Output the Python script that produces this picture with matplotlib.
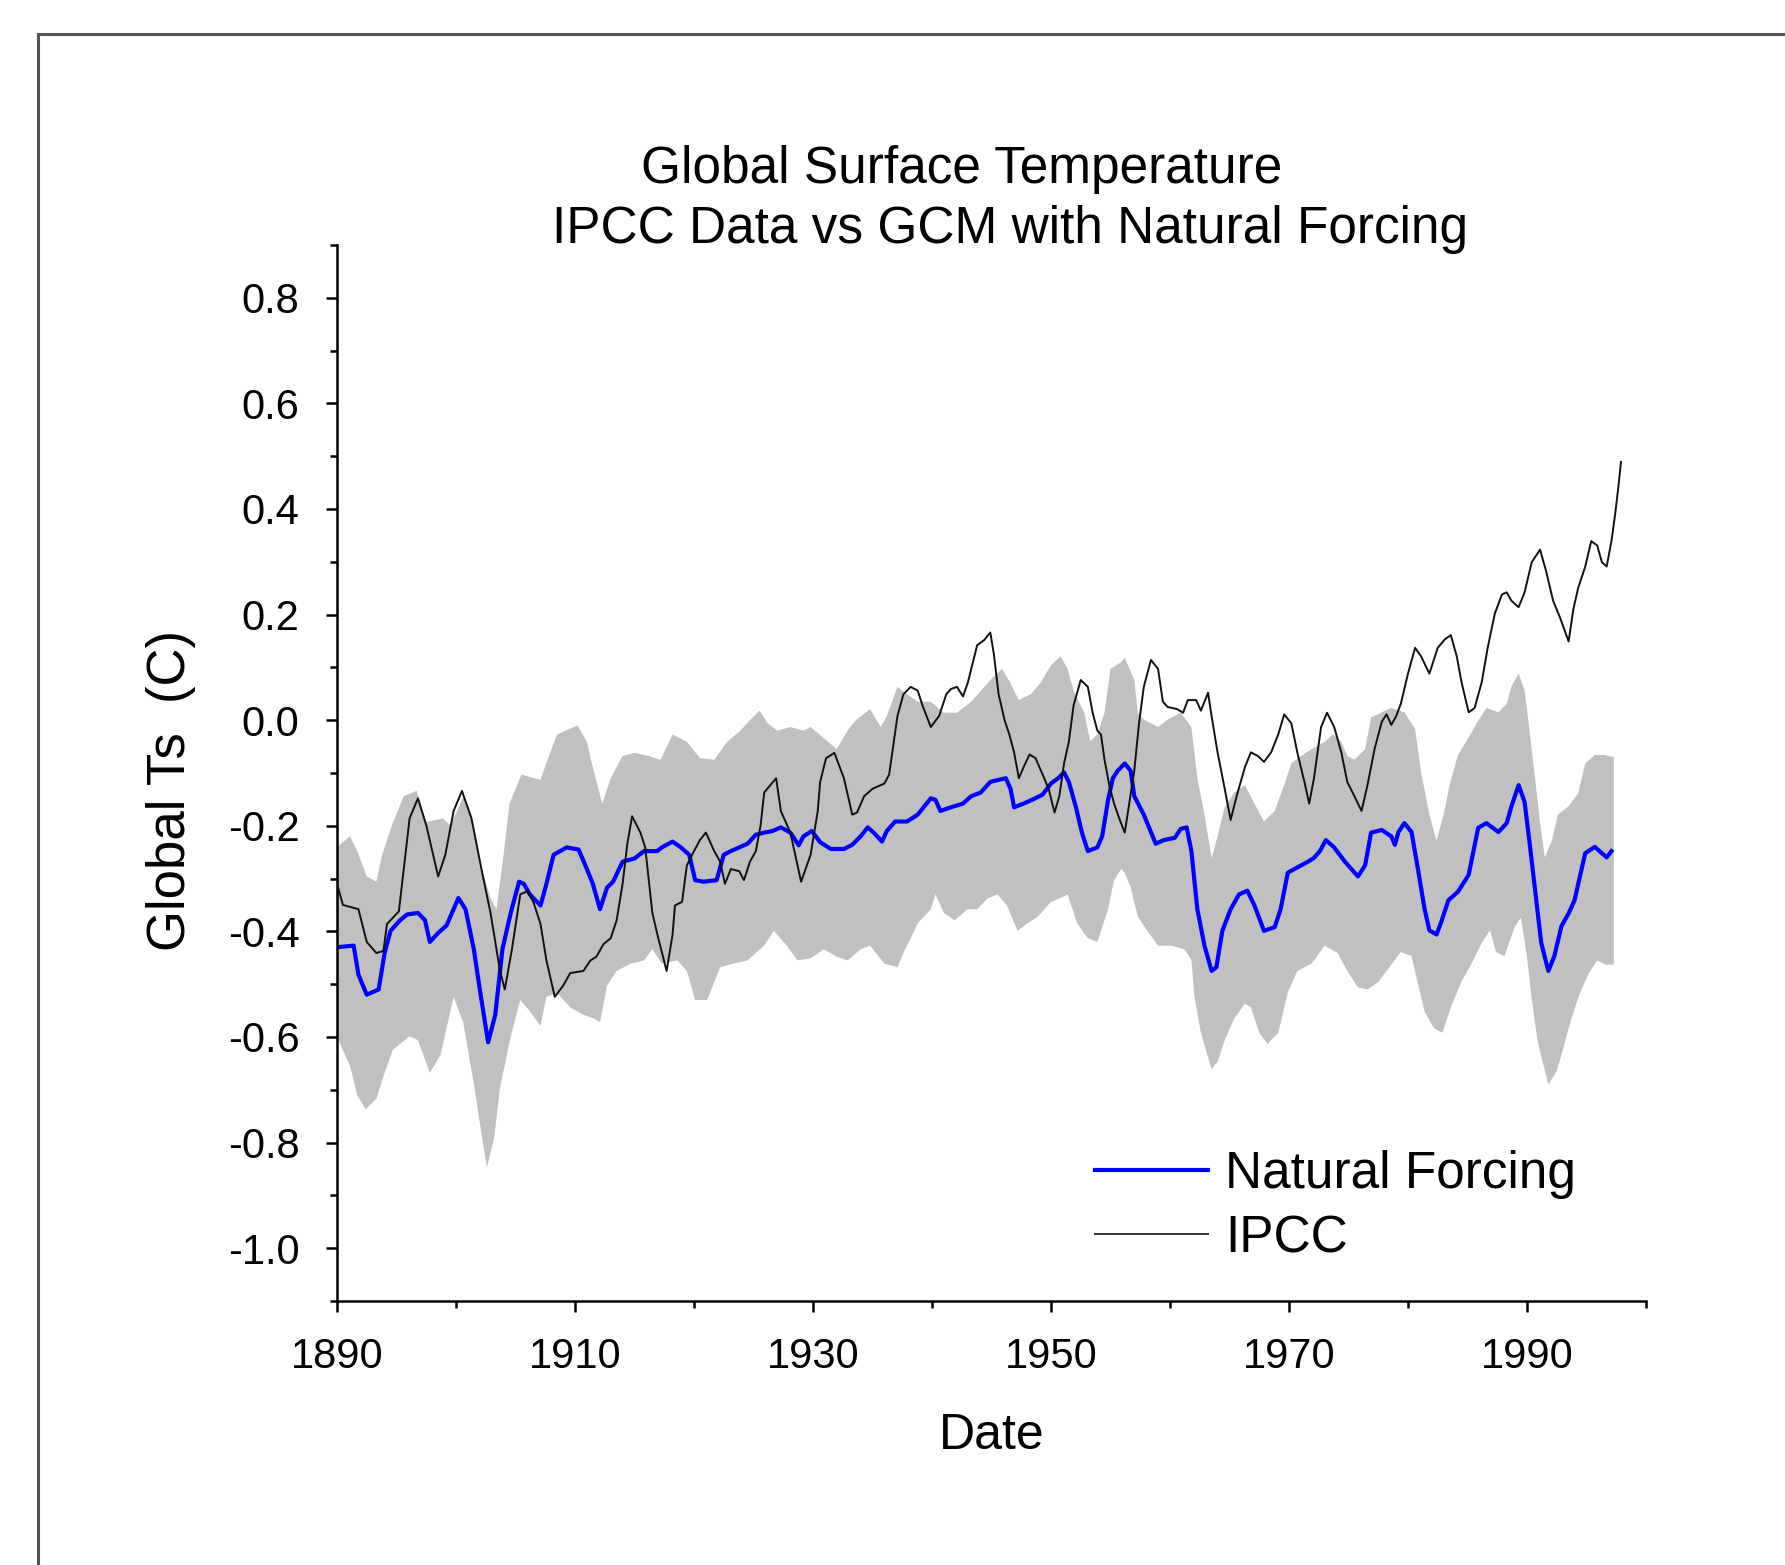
import numpy as np
import matplotlib
matplotlib.use("Agg")
import matplotlib.pyplot as plt
from matplotlib.patches import Rectangle
from matplotlib.lines import Line2D
from matplotlib.ticker import MultipleLocator, FuncFormatter

plt.rcParams['font.family'] = ['Liberation Sans', 'DejaVu Sans']
plt.rcParams['axes.unicode_minus'] = False

# ---------------- data ----------------
ipcc_year = [1890.0, 1890.5, 1891.8, 1892.5, 1893.3, 1893.9, 1894.2, 1895.2, 1896.1, 1896.8,
             1897.5, 1898.5, 1899.1, 1899.8, 1900.5, 1901.3, 1902.2, 1902.9, 1903.7, 1904.1,
             1904.7, 1905.4, 1906.0, 1906.5, 1907.1, 1907.6, 1908.3, 1909.0, 1909.6, 1910.7,
             1911.3, 1911.8, 1912.4, 1913.0, 1913.5, 1914.0, 1914.4, 1914.8, 1915.5, 1915.9,
             1916.5, 1917.0, 1917.7, 1918.2, 1918.4, 1919.0, 1919.4, 1920.0, 1920.5, 1921.0,
             1921.7, 1922.2, 1922.6, 1923.1, 1923.8, 1924.2, 1924.7, 1925.2, 1925.6, 1925.9,
             1926.9, 1927.3, 1928.1, 1929.0, 1929.8, 1930.4, 1930.6, 1931.1, 1931.8, 1932.6,
             1933.3, 1933.7, 1934.3, 1935.0, 1936.0, 1936.4, 1936.7, 1937.1, 1937.6, 1938.2,
             1938.8, 1939.2, 1939.9, 1940.6, 1941.2, 1941.6, 1942.1, 1942.6, 1943.0, 1943.3,
             1943.8, 1944.4, 1944.9, 1945.2, 1945.6, 1946.1, 1946.5, 1946.9, 1947.3, 1947.7,
             1948.2, 1948.7, 1949.3, 1949.8, 1950.3, 1950.7, 1951.1, 1951.5, 1951.9, 1952.5,
             1953.1, 1953.5, 1953.9, 1954.2, 1954.5, 1954.9, 1955.3, 1955.8, 1956.2, 1957.0,
             1957.4, 1957.8, 1958.4, 1959.0, 1959.4, 1959.8, 1960.6, 1961.1, 1961.5, 1962.2,
             1962.6, 1963.2, 1963.5, 1964.0, 1964.6, 1965.1, 1965.6, 1966.3, 1966.8, 1967.4,
             1967.9, 1968.5, 1969.1, 1969.6, 1970.2, 1970.7, 1971.3, 1971.7, 1972.1, 1972.7,
             1973.2, 1973.8, 1974.4, 1974.9, 1975.5, 1976.1, 1976.6, 1977.2, 1977.8, 1978.2,
             1978.6, 1979.0, 1979.4, 1980.0, 1980.6, 1981.1, 1981.8, 1982.5, 1983.1, 1983.6,
             1984.1, 1984.5, 1985.1, 1985.6, 1986.2, 1986.7, 1987.3, 1987.9, 1988.3, 1988.7,
             1989.3, 1989.8, 1990.4, 1991.1, 1991.6, 1992.2, 1992.8, 1993.5, 1993.9, 1994.3,
             1994.9, 1995.4, 1995.9, 1996.3, 1996.7, 1997.1, 1997.4, 1997.7, 1997.9]
ipcc_ts = [-0.310, -0.350, -0.358, -0.420, -0.441, -0.437, -0.386, -0.362, -0.186, -0.148,
           -0.199, -0.296, -0.255, -0.172, -0.134, -0.186, -0.289, -0.365, -0.475, -0.510,
           -0.434, -0.330, -0.324, -0.344, -0.386, -0.455, -0.524, -0.503, -0.479, -0.475,
           -0.455, -0.448, -0.424, -0.413, -0.379, -0.310, -0.234, -0.182, -0.213, -0.241,
           -0.365, -0.413, -0.475, -0.406, -0.351, -0.344, -0.275, -0.248, -0.227, -0.213,
           -0.248, -0.268, -0.310, -0.282, -0.286, -0.303, -0.268, -0.248, -0.199, -0.137,
           -0.110, -0.172, -0.213, -0.306, -0.255, -0.172, -0.117, -0.072, -0.062, -0.110,
           -0.179, -0.175, -0.144, -0.130, -0.120, -0.103, -0.055, 0.008, 0.049, 0.063,
           0.056, 0.028, -0.013, 0.008, 0.049, 0.059, 0.063, 0.045, 0.070, 0.097,
           0.142, 0.152, 0.166, 0.125, 0.049, 0.000, -0.027, -0.061, -0.110, -0.089,
           -0.065, -0.072, -0.103, -0.130, -0.175, -0.144, -0.082, -0.041, 0.028, 0.076,
           0.063, 0.014, -0.020, -0.027, -0.075, -0.123, -0.158, -0.190, -0.213, -0.096,
           -0.006, 0.063, 0.114, 0.097, 0.035, 0.025, 0.021, 0.014, 0.038, 0.038,
           0.018, 0.052, 0.007, -0.061, -0.130, -0.189, -0.144, -0.089, -0.061, -0.068,
           -0.079, -0.061, -0.027, 0.011, -0.006, -0.061, -0.117, -0.158, -0.110, -0.013,
           0.014, -0.013, -0.061, -0.117, -0.144, -0.172, -0.123, -0.054, -0.003, 0.011,
           -0.009, 0.007, 0.031, 0.088, 0.137, 0.121, 0.088, 0.137, 0.153, 0.161,
           0.121, 0.072, 0.015, 0.023, 0.072, 0.137, 0.202, 0.238, 0.242, 0.226,
           0.214, 0.242, 0.299, 0.323, 0.283, 0.226, 0.193, 0.149, 0.210, 0.250,
           0.291, 0.339, 0.331, 0.299, 0.291, 0.339, 0.388, 0.445, 0.489]

nat_year = [1890.0, 1891.4, 1891.8, 1892.5, 1893.5, 1894.0, 1894.5, 1895.3, 1895.9, 1896.8,
            1897.4, 1897.8, 1898.5, 1899.2, 1900.2, 1900.8, 1901.5, 1902.0, 1902.7, 1903.3,
            1903.9, 1904.6, 1905.3, 1905.7, 1906.2, 1907.1, 1907.6, 1908.2, 1909.3, 1910.3,
            1911.0, 1911.5, 1912.1, 1912.7, 1913.2, 1914.0, 1915.0, 1915.8, 1916.9, 1917.3,
            1918.2, 1918.9, 1919.6, 1920.1, 1920.8, 1921.9, 1922.5, 1923.1, 1923.8, 1924.5,
            1925.2, 1925.9, 1926.6, 1927.3, 1928.1, 1928.8, 1929.2, 1929.9, 1930.6, 1931.5,
            1932.6, 1933.3, 1934.0, 1934.6, 1935.1, 1935.8, 1936.2, 1936.9, 1937.9, 1938.8,
            1939.9, 1940.3, 1940.7, 1941.6, 1942.6, 1943.3, 1944.1, 1944.9, 1945.6, 1946.2,
            1946.6, 1946.9, 1947.7, 1948.4, 1949.3, 1950.0, 1950.6, 1951.1, 1951.5, 1952.1,
            1952.6, 1953.1, 1953.9, 1954.3, 1954.8, 1955.2, 1955.6, 1956.2, 1956.7, 1957.0,
            1957.8, 1958.8, 1959.5, 1960.4, 1960.9, 1961.4, 1961.8, 1962.3, 1962.9, 1963.5,
            1963.9, 1964.4, 1965.1, 1965.8, 1966.5, 1967.1, 1967.9, 1968.8, 1969.3, 1969.9,
            1970.7, 1971.6, 1972.1, 1972.6, 1973.1, 1973.8, 1974.7, 1975.8, 1976.4, 1976.9,
            1977.8, 1978.6, 1978.9, 1979.2, 1979.7, 1980.3, 1980.8, 1981.4, 1981.8, 1982.4,
            1982.8, 1983.4, 1984.2, 1985.1, 1985.9, 1986.6, 1987.6, 1988.3, 1988.7, 1989.3,
            1989.8, 1990.2, 1990.7, 1991.2, 1991.8, 1992.3, 1992.9, 1993.5, 1994.0, 1994.4,
            1994.9, 1995.7, 1996.3, 1996.7, 1997.1]
nat_ts = [-0.430, -0.427, -0.482, -0.520, -0.510, -0.441, -0.399, -0.379, -0.368, -0.365,
          -0.379, -0.420, -0.403, -0.389, -0.337, -0.358, -0.434, -0.510, -0.610, -0.558,
          -0.434, -0.365, -0.306, -0.310, -0.330, -0.351, -0.310, -0.255, -0.241, -0.245,
          -0.282, -0.310, -0.358, -0.317, -0.306, -0.268, -0.262, -0.248, -0.248, -0.241,
          -0.230, -0.241, -0.255, -0.303, -0.306, -0.303, -0.255, -0.248, -0.241, -0.234,
          -0.217, -0.213, -0.210, -0.203, -0.213, -0.237, -0.220, -0.210, -0.231, -0.244,
          -0.244, -0.236, -0.220, -0.203, -0.213, -0.230, -0.210, -0.192, -0.192, -0.179,
          -0.148, -0.151, -0.172, -0.165, -0.158, -0.144, -0.137, -0.117, -0.113, -0.110,
          -0.130, -0.165, -0.158, -0.151, -0.141, -0.120, -0.110, -0.099, -0.117, -0.165,
          -0.213, -0.248, -0.241, -0.220, -0.151, -0.110, -0.096, -0.082, -0.096, -0.144,
          -0.179, -0.234, -0.227, -0.223, -0.206, -0.203, -0.248, -0.358, -0.427, -0.475,
          -0.468, -0.399, -0.358, -0.330, -0.323, -0.351, -0.399, -0.392, -0.358, -0.289,
          -0.279, -0.268, -0.261, -0.248, -0.227, -0.241, -0.268, -0.296, -0.275, -0.213,
          -0.208, -0.220, -0.236, -0.212, -0.195, -0.212, -0.277, -0.358, -0.398, -0.406,
          -0.382, -0.341, -0.325, -0.293, -0.204, -0.195, -0.212, -0.195, -0.163, -0.123,
          -0.155, -0.228, -0.325, -0.422, -0.475, -0.447, -0.390, -0.366, -0.341, -0.301,
          -0.252, -0.240, -0.252, -0.260, -0.248]

band_up_year = [1890.0, 1891.1, 1891.7, 1892.5, 1893.3, 1893.8, 1894.6, 1895.6, 1896.7, 1897.5,
                1898.9, 1899.5, 1900.1, 1900.6, 1901.5, 1902.0, 1902.9, 1903.4, 1904.0, 1904.5,
                1905.5, 1907.1, 1907.9, 1908.5, 1910.2, 1911.0, 1911.5, 1912.3, 1913.0, 1914.0,
                1915.0, 1916.2, 1917.2, 1918.2, 1919.4, 1920.5, 1921.7, 1922.8, 1923.9, 1924.7,
                1925.5, 1926.2, 1927.0, 1928.1, 1929.2, 1929.8, 1930.9, 1932.0, 1932.9, 1933.6,
                1934.8, 1935.7, 1936.2, 1937.1, 1937.9, 1938.8, 1939.9, 1941.0, 1942.1, 1943.3,
                1944.4, 1945.2, 1945.9, 1946.6, 1947.3, 1948.3, 1949.1, 1950.0, 1950.8, 1951.4,
                1951.9, 1952.8, 1953.3, 1953.9, 1954.5, 1955.0, 1955.9, 1956.2, 1957.0, 1957.3,
                1957.8, 1959.0, 1959.8, 1960.9, 1961.8, 1962.3, 1962.9, 1963.5, 1964.0, 1964.6,
                1965.4, 1966.3, 1967.1, 1967.9, 1968.8, 1969.6, 1970.2, 1971.0, 1971.9, 1973.0,
                1973.7, 1974.4, 1974.9, 1975.5, 1976.4, 1976.9, 1977.8, 1978.6, 1979.7, 1980.6,
                1981.1, 1981.8, 1982.4, 1983.0, 1983.5, 1984.2, 1985.1, 1985.9, 1986.6, 1987.6,
                1988.3, 1988.7, 1989.3, 1989.8, 1990.2, 1990.7, 1991.1, 1991.5, 1992.1, 1992.6,
                1993.5, 1994.3, 1994.9, 1995.7, 1996.5, 1997.3]
band_up_ts = [-0.240, -0.220, -0.248, -0.296, -0.306, -0.255, -0.200, -0.144, -0.134, -0.193,
              -0.186, -0.199, -0.172, -0.144, -0.199, -0.268, -0.337, -0.358, -0.255, -0.158,
              -0.103, -0.113, -0.062, -0.027, -0.010, -0.041, -0.090, -0.158, -0.110, -0.068,
              -0.062, -0.068, -0.075, -0.027, -0.041, -0.072, -0.075, -0.041, -0.020, 0.000,
              0.018, -0.006, -0.020, -0.013, -0.020, -0.013, -0.034, -0.055, -0.020, 0.000,
              0.021, -0.013, 0.007, 0.063, 0.049, 0.035, 0.035, 0.014, 0.014, 0.035,
              0.063, 0.083, 0.097, 0.070, 0.038, 0.049, 0.070, 0.104, 0.121, 0.097,
              0.056, 0.014, -0.040, -0.027, 0.014, 0.097, 0.110, 0.118, 0.076, 0.014,
              0.001, -0.013, 0.001, 0.014, -0.013, -0.110, -0.179, -0.261, -0.220, -0.165,
              -0.137, -0.123, -0.158, -0.192, -0.172, -0.123, -0.082, -0.068, -0.055, -0.041,
              -0.027, -0.041, -0.068, -0.075, -0.055, 0.005, 0.015, 0.023, 0.015, -0.017,
              -0.098, -0.179, -0.228, -0.179, -0.123, -0.066, -0.033, -0.001, 0.023, 0.015,
              0.031, 0.064, 0.088, 0.056, -0.017, -0.114, -0.195, -0.260, -0.228, -0.179,
              -0.163, -0.139, -0.082, -0.066, -0.066, -0.070]

band_lo_year = [1890.0, 1891.1, 1891.7, 1892.4, 1893.3, 1894.0, 1894.7, 1896.1, 1896.8, 1897.8,
                1898.7, 1899.8, 1900.6, 1901.5, 1902.3, 1902.6, 1903.2, 1903.7, 1904.6, 1905.4,
                1906.2, 1907.1, 1907.6, 1908.5, 1909.6, 1910.7, 1911.6, 1912.1, 1912.7, 1913.5,
                1914.7, 1915.8, 1916.5, 1917.3, 1918.6, 1919.4, 1920.1, 1921.1, 1922.2, 1923.3,
                1924.5, 1925.9, 1926.7, 1927.8, 1928.7, 1929.8, 1930.9, 1932.0, 1932.9, 1934.0,
                1934.8, 1936.0, 1937.1, 1937.6, 1938.8, 1939.9, 1940.3, 1941.0, 1941.9, 1943.0,
                1943.8, 1944.7, 1945.5, 1946.3, 1947.2, 1948.0, 1948.9, 1950.0, 1950.8, 1951.4,
                1952.2, 1953.1, 1953.9, 1954.8, 1955.3, 1955.9, 1956.2, 1956.7, 1957.3, 1958.1,
                1959.0, 1960.1, 1961.2, 1961.8, 1962.05, 1962.6, 1963.5, 1964.0, 1964.6, 1965.4,
                1966.3, 1966.8, 1967.5, 1968.2, 1969.1, 1969.9, 1970.7, 1971.9, 1973.0, 1974.1,
                1974.9, 1975.8, 1976.6, 1977.5, 1978.6, 1979.4, 1980.3, 1980.8, 1981.4, 1982.2,
                1982.9, 1983.6, 1984.5, 1985.3, 1986.2, 1986.9, 1987.4, 1988.1, 1989.0, 1989.5,
                1990.0, 1990.4, 1990.9, 1991.8, 1992.5, 1993.2, 1993.7, 1994.4, 1995.2, 1995.9,
                1996.6, 1997.3]
band_lo_ts = [-0.600, -0.655, -0.710, -0.737, -0.717, -0.668, -0.624, -0.599, -0.606, -0.668,
              -0.634, -0.524, -0.572, -0.689, -0.806, -0.847, -0.792, -0.696, -0.599, -0.530,
              -0.551, -0.579, -0.524, -0.517, -0.544, -0.558, -0.565, -0.572, -0.503, -0.475,
              -0.461, -0.455, -0.434, -0.461, -0.455, -0.475, -0.530, -0.530, -0.468, -0.461,
              -0.455, -0.427, -0.399, -0.427, -0.455, -0.451, -0.434, -0.448, -0.455, -0.434,
              -0.427, -0.461, -0.468, -0.441, -0.385, -0.358, -0.330, -0.365, -0.379, -0.358,
              -0.358, -0.337, -0.330, -0.351, -0.399, -0.385, -0.372, -0.344, -0.337, -0.330,
              -0.385, -0.413, -0.420, -0.358, -0.303, -0.282, -0.289, -0.317, -0.372, -0.399,
              -0.427, -0.427, -0.434, -0.454, -0.523, -0.592, -0.661, -0.647, -0.606, -0.565,
              -0.537, -0.544, -0.592, -0.613, -0.592, -0.516, -0.475, -0.461, -0.427, -0.441,
              -0.475, -0.506, -0.510, -0.496, -0.463, -0.439, -0.447, -0.495, -0.552, -0.584,
              -0.592, -0.544, -0.495, -0.463, -0.422, -0.398, -0.439, -0.447, -0.390, -0.374,
              -0.447, -0.528, -0.609, -0.690, -0.665, -0.609, -0.568, -0.520, -0.479, -0.455,
              -0.463, -0.463]

x_ticks = [1890, 1910, 1930, 1950, 1970, 1990]
legend_labels = ["Natural Forcing", "IPCC"]

# ---------------- figure ----------------
W, H = 1785, 1565
fig = plt.figure(figsize=(W / 100, H / 100), dpi=100)
fig.patch.set_facecolor('white')

# page frame (screenshot border)
fig.patches.append(Rectangle((0.0213, -0.1), 1.2, 0.978 + 0.1, transform=fig.transFigure,
                             fill=False, edgecolor='#555555', linewidth=2.2, zorder=0))

ax = fig.add_axes([0.1888, 0.1687, 0.7333, 0.6748])

band_x = np.concatenate([band_up_year, band_lo_year[::-1]])
band_y = np.concatenate([band_up_ts, band_lo_ts[::-1]])
ax.fill(band_x, band_y, color='#C0C0C0', linewidth=0, zorder=1)

ax.plot(nat_year, nat_ts, color='#0000FF', linewidth=3.0, zorder=2)
ax.plot(ipcc_year, ipcc_ts, color='#111111', linewidth=1.4, zorder=3)

ax.set_xlim(1890, 2000)
ax.set_ylim(-1.1, 0.9)
ax.set_xticks(x_ticks)
ax.xaxis.set_minor_locator(MultipleLocator(10))
ax.set_yticks(np.round(np.arange(-1.0, 0.81, 0.2), 1))
ax.yaxis.set_minor_locator(MultipleLocator(0.1))
ax.yaxis.set_major_formatter(FuncFormatter(lambda v, p: f"{round(v, 1) + 0.0:.1f}"))

for s in ['top', 'right']:
    ax.spines[s].set_visible(False)
for s in ['left', 'bottom']:
    ax.spines[s].set_linewidth(1.8)
    ax.spines[s].set_color('black')

ax.tick_params(axis='both', which='major', direction='out', length=8, width=1.8,
               labelsize=30, colors='black')
ax.tick_params(axis='x', which='major', pad=18)
ax.tick_params(axis='y', which='major', pad=19)
ax.tick_params(axis='both', which='minor', direction='out', length=5, width=1.8)

ax.set_xlabel('Date', fontsize=36, labelpad=26)
ax.set_ylabel('Global Ts  (C)', fontsize=38, labelpad=23)
ax.yaxis.label.set_y(0.483)

fig.text(0.539, 0.8920, 'Global Surface Temperature', fontsize=37,
         ha='center', va='center')
fig.text(0.566, 0.8535, 'IPCC Data vs GCM with Natural Forcing', fontsize=37,
         ha='center', va='center')

handles = [Line2D([], [], color='#0000FF', linewidth=3.0),
           Line2D([], [], color='#333333', linewidth=1.4)]
ax.legend(handles, legend_labels, loc='upper left', bbox_to_anchor=(0.6134, 0.265),
          bbox_transform=fig.transFigure, frameon=False, fontsize=37,
          handlelength=2.2, handletextpad=0.33, labelspacing=0.29,
          borderpad=0, borderaxespad=0)

fig.savefig('out.png', dpi=100, facecolor='white')
